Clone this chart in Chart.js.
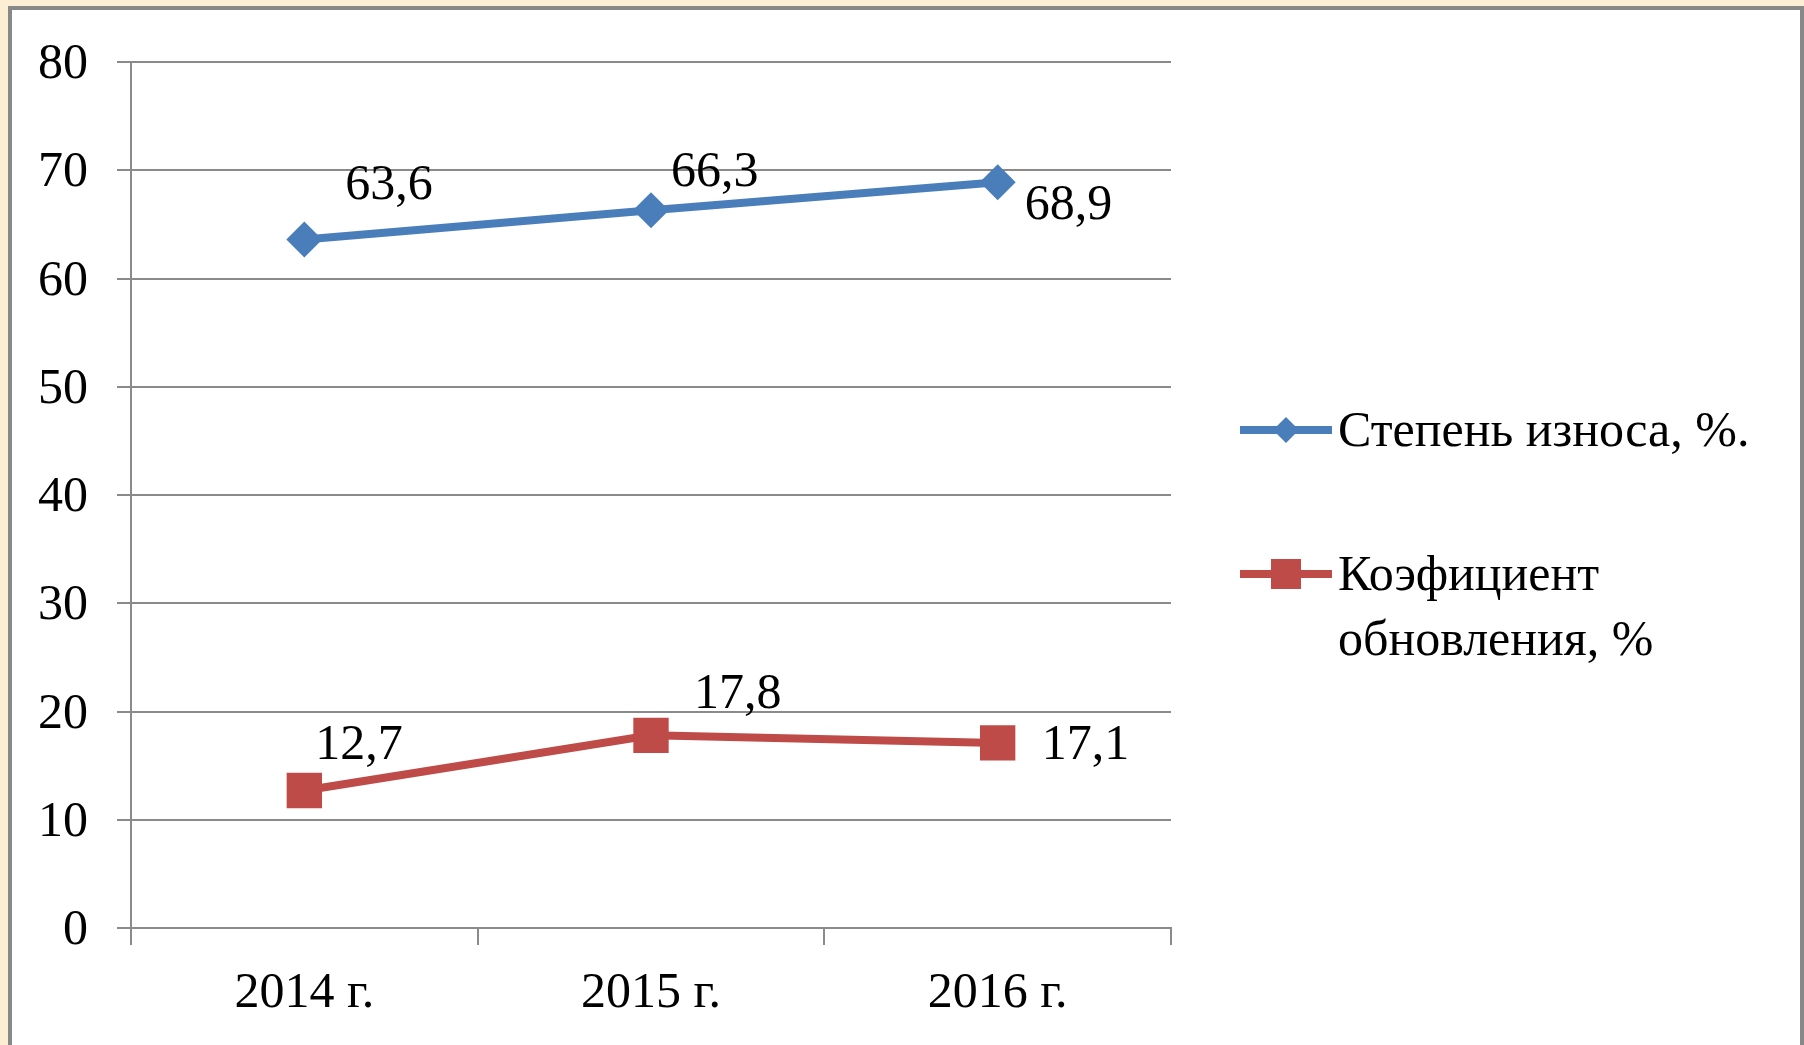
<!DOCTYPE html>
<html><head><meta charset="utf-8">
<script src="https://cdn.jsdelivr.net/npm/chart.js@4.4.1/dist/chart.umd.min.js"></script>
<style>
html,body{margin:0;padding:0;width:1804px;height:1045px;overflow:hidden;background:#fbeed4;}
#frame{position:absolute;left:8px;top:6px;width:1788px;height:1100px;background:#fff;border:4px solid #888;border-bottom:none;}
#c{position:absolute;left:0;top:0;}
</style></head>
<body>
<div id="frame"></div>
<canvas id="c" width="1804" height="1045"></canvas>
<script>
// ---- data ----
const categories = ['2014 г.', '2015 г.', '2016 г.'];
const wearValues = [63.6, 66.3, 68.9];
const renewalValues = [12.7, 17.8, 17.1];
const wearName = 'Степень износа, %.';
const renewalName = ['Коэфициент', 'обновления, %'];
const yMin = 0, yMax = 80, yStep = 10;

// ---- styles ----
const FONT = '"Liberation Serif", "Times New Roman", serif';
const FS = 50;
const BLUE = '#4A7EBB';
const RED = '#BE4B48';
const GRID = '#8a8a8a';
// label offsets (px) from each point, left-aligned text, vertical middle
const labelOffsets = [
  [[41, -54], [20, -37], [27, 24]],
  [[11, -45], [43, -40], [44, 3]]
];

function fmt(v) { return v.toFixed(1).replace('.', ','); }

const dataLabelPlugin = {
  id: 'dataLabels',
  afterDatasetsDraw(chart) {
    const ctx = chart.ctx;
    ctx.save();
    ctx.font = FS + 'px ' + FONT;
    ctx.fillStyle = '#000';
    ctx.textAlign = 'left';
    ctx.textBaseline = 'middle';
    chart.data.datasets.forEach((ds, i) => {
      const meta = chart.getDatasetMeta(i);
      meta.data.forEach((el, j) => {
        const off = labelOffsets[i][j];
        ctx.fillText(fmt(ds.data[j]), el.x + off[0], el.y + off[1]);
      });
    });
    ctx.restore();
  }
};

const legendPlugin = {
  id: 'customLegend',
  afterDraw(chart) {
    const ctx = chart.ctx;
    const a = chart.chartArea;
    const x0 = a.right + 69, x1 = a.right + 161, xm = (x0 + x1) / 2, tx = a.right + 167;
    const items = [
      { ds: chart.data.datasets[0], y: a.top + 368, lines: [].concat(chart.data.datasets[0].label) },
      { ds: chart.data.datasets[1], y: a.top + 512, lines: [].concat(chart.data.datasets[1].legendText) }
    ];
    ctx.save();
    items.forEach((it, k) => {
      ctx.strokeStyle = it.ds.borderColor;
      ctx.lineWidth = it.ds.borderWidth;
      ctx.beginPath(); ctx.moveTo(x0, it.y); ctx.lineTo(x1, it.y); ctx.stroke();
      ctx.fillStyle = it.ds.borderColor;
      ctx.beginPath();
      if (k === 0) {
        const r = 13;
        ctx.moveTo(xm, it.y - r); ctx.lineTo(xm + r, it.y); ctx.lineTo(xm, it.y + r); ctx.lineTo(xm - r, it.y);
        ctx.closePath();
      } else {
        const h = 15;
        ctx.rect(xm - h, it.y - h, 2 * h, 2 * h);
      }
      ctx.fill();
      ctx.fillStyle = '#000';
      ctx.font = FS + 'px ' + FONT;
      ctx.textAlign = 'left';
      ctx.textBaseline = 'middle';
      it.lines.forEach((ln, m) => ctx.fillText(ln, tx, it.y + 3 + m * 65));
    });
    ctx.restore();
  }
};

new Chart(document.getElementById('c'), {
  type: 'line',
  data: {
    labels: categories,
    datasets: [
      { label: wearName, data: wearValues, borderColor: BLUE, backgroundColor: BLUE,
        borderWidth: 8, pointStyle: 'rectRot', pointRadius: 18, pointHoverRadius: 18,
        pointBackgroundColor: BLUE, pointBorderColor: BLUE, pointBorderWidth: 0, tension: 0 },
      { label: renewalName.join(' '), legendText: renewalName, data: renewalValues, borderColor: RED, backgroundColor: RED,
        borderWidth: 8, pointStyle: 'rect', pointRadius: 25, pointHoverRadius: 25,
        pointBackgroundColor: RED, pointBorderColor: RED, pointBorderWidth: 0, tension: 0 }
    ]
  },
  options: {
    responsive: false,
    animation: false,
    events: [],
    layout: { padding: { top: 62, right: 633, left: 0, bottom: 0 } },
    plugins: { legend: { display: false }, tooltip: { enabled: false } },
    scales: {
      x: {
        type: 'category',
        offset: true,
        grid: { offset: true, drawOnChartArea: false, drawTicks: true, tickLength: 17, color: GRID, lineWidth: 2 },
        border: { display: true, color: GRID, width: 2 },
        ticks: { font: { family: FONT, size: FS }, color: '#000', padding: 19, maxRotation: 0 },
        afterFit(s) { s.height = 117; }
      },
      y: {
        min: yMin, max: yMax,
        grid: { color: GRID, lineWidth: 2, tickLength: 14, drawTicks: true },
        border: { display: true, color: GRID, width: 2 },
        ticks: { stepSize: yStep, font: { family: FONT, size: FS }, color: '#000', padding: 29, labelOffset: 3 },
        afterFit(s) { s.width = 131; }
      }
    }
  },
  plugins: [dataLabelPlugin, legendPlugin]
});
</script>
</body></html>
